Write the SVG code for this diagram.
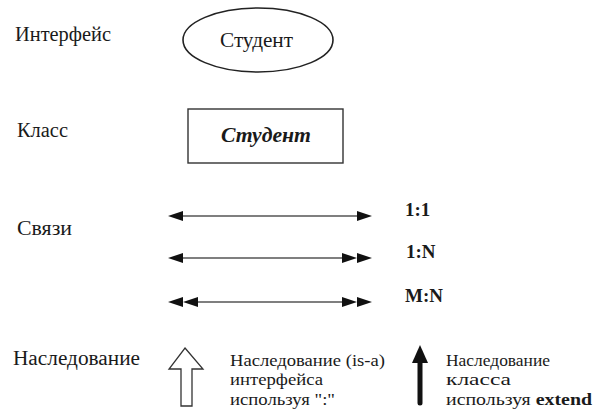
<svg xmlns="http://www.w3.org/2000/svg" width="597" height="412" viewBox="0 0 597 412">
<style>
text{font-family:"Liberation Serif","DejaVu Serif",serif;fill:#1a1a1a}
.lbl{font-size:20px}
.sm{font-size:17px}
.card{font-size:19px;font-weight:bold}
.ln{stroke:#555;stroke-width:1.6;fill:none}
.hd{fill:#111}
</style>
<rect width="597" height="412" fill="#fff"/>
<g id="label-interface"><text class="lbl" x="15" y="41" textLength="96" lengthAdjust="spacingAndGlyphs">Интерфейс</text></g>
<g id="node-interface">
<ellipse cx="258" cy="40" rx="75" ry="32" fill="#fff" stroke="#222" stroke-width="1.6"/>
<text class="lbl" x="220" y="47" textLength="73" lengthAdjust="spacingAndGlyphs">Студент</text>
</g>
<g id="label-class"><text class="lbl" x="17" y="137" textLength="51" lengthAdjust="spacingAndGlyphs">Класс</text></g>
<g id="node-class">
<rect x="188" y="109" width="155" height="54" fill="#fff" stroke="#333" stroke-width="1.4"/>
<text class="lbl" x="221" y="142" font-weight="bold" font-style="italic" textLength="90" lengthAdjust="spacingAndGlyphs">Студент</text>
</g>
<g id="label-links"><text class="lbl" x="17" y="235" textLength="55" lengthAdjust="spacingAndGlyphs">Связи</text></g>
<g id="connectors">
<line class="ln" x1="175" y1="216" x2="365" y2="216"/>
<polygon class="hd" points="168,216 183,211 183,221"/>
<polygon class="hd" points="372,216 357,211 357,221"/>
<line class="ln" x1="175" y1="258" x2="350" y2="258"/>
<polygon class="hd" points="168,258 183,253 183,263"/>
<polygon class="hd" points="357,258 342,253 342,263"/>
<polygon class="hd" points="372,258 357,253 357,263"/>
<line class="ln" x1="190" y1="302" x2="350" y2="302"/>
<polygon class="hd" points="168,302 183,297 183,307"/>
<polygon class="hd" points="183,302 198,297 198,307"/>
<polygon class="hd" points="357,302 342,297 342,307"/>
<polygon class="hd" points="372,302 357,297 357,307"/>
</g>
<g id="cardinalities">
<text class="card" x="405" y="216">1:1</text>
<text class="card" x="406" y="258">1:N</text>
<text class="card" x="405" y="302">M:N</text>
</g>
<g id="label-inherit"><text class="lbl" x="13" y="365" textLength="127" lengthAdjust="spacingAndGlyphs">Наследование</text></g>
<g id="inherit-interface">
<path d="M185,348 L203,369 L192,369 L192,406 L181,406 L181,369 L169,369 Z" fill="#fff" stroke="#333" stroke-width="1.3"/>
<text class="sm" x="230" y="366" textLength="155" lengthAdjust="spacingAndGlyphs">Наследование (is-a)</text>
<text class="sm" x="230" y="385" textLength="93" lengthAdjust="spacingAndGlyphs">интерфейса</text>
<text class="sm" x="230" y="405" textLength="105" lengthAdjust="spacingAndGlyphs">используя ":"</text>
</g>
<g id="inherit-class">
<polygon class="hd" points="420,345 428,363 412,363"/>
<line x1="420" y1="360" x2="420" y2="403" stroke="#111" stroke-width="5" stroke-linecap="round"/>
<text class="sm" x="446" y="366" textLength="104" lengthAdjust="spacingAndGlyphs">Наследование</text>
<text class="sm" x="446" y="385" textLength="65" lengthAdjust="spacingAndGlyphs">класса</text>
<text class="sm" x="446" y="405" textLength="146" lengthAdjust="spacingAndGlyphs">используя <tspan font-weight="bold">extend</tspan></text>
</g>
</svg>
